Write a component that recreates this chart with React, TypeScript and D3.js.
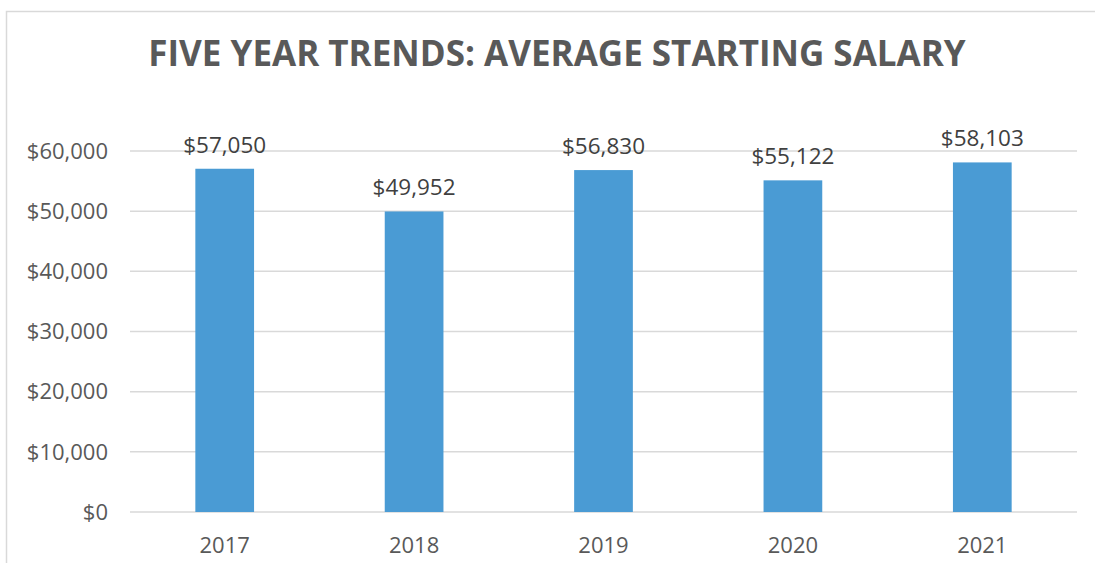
import * as d3 from 'd3'

const years = ['2017', '2018', '2019', '2020', '2021']
const salaries = [57050, 49952, 56830, 55122, 58103]
const yTicks = [0, 10000, 20000, 30000, 40000, 50000, 60000]

const W = 1095
const H = 563
const m = { left: 130, right: 18, top: 151, bottom: 51 }

export default function App() {
  const x = d3.scaleBand().domain(years).range([m.left, W - m.right]).paddingInner(0.69).paddingOuter(0.345)
  const y = d3.scaleLinear().domain([0, 60000]).range([H - m.bottom, m.top])
  const fmt = (v: number) => '$' + d3.format(',')(v)
  const font = '"Open Sans", "DejaVu Sans", sans-serif'

  return (
    <svg width={W} height={H} style={{ position: 'fixed', left: 0, top: 0, background: '#fff' }}>
      <path d={`M6.5,${H} V11.5 H${W}`} fill="none" stroke="#d9d9d9" strokeWidth={1.5} />
      <text x={557} y={66} textAnchor="middle" fontFamily={font} fontWeight={700} fontSize={35} fill="#595959">
        FIVE YEAR TRENDS: AVERAGE STARTING SALARY
      </text>
      {yTicks.map(t => (
        <g key={t}>
          <line x1={m.left} x2={W - m.right} y1={y(t)} y2={y(t)} stroke="#d9d9d9" strokeWidth={1.5} />
          <text x={108} y={y(t)} dy="0.35em" textAnchor="end" fontFamily={font} fontSize={22} fill="#595959">
            {fmt(t)}
          </text>
        </g>
      ))}
      {salaries.map((v, i) => (
        <g key={years[i]}>
          <rect x={x(years[i])} y={y(v)} width={x.bandwidth()} height={y(0) - y(v)} fill="#4a9bd4" />
          <text x={x(years[i])! + x.bandwidth() / 2} y={y(v) - 16} textAnchor="middle" fontFamily={font} fontSize={22.5} fill="#404040">
            {fmt(v)}
          </text>
          <text x={x(years[i])! + x.bandwidth() / 2} y={553} textAnchor="middle" fontFamily={font} fontSize={22} fill="#595959">
            {years[i]}
          </text>
        </g>
      ))}
    </svg>
  )
}
